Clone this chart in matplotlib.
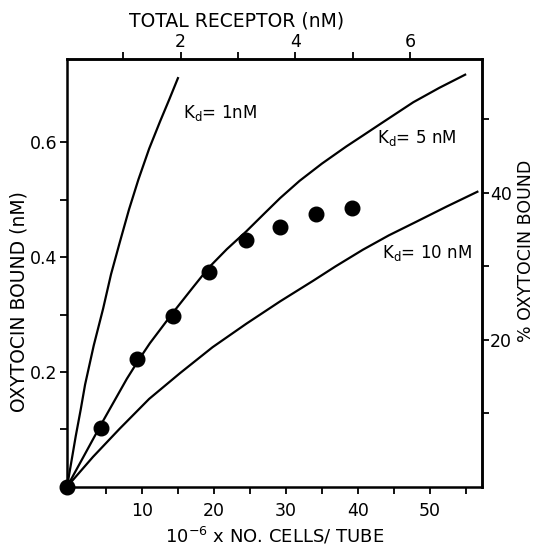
import matplotlib
matplotlib.use('Agg')
import matplotlib.pyplot as plt

# measured points (cells in 10^6 / tube, oxytocin bound in nM)
cells_pts = [-0.4, 4.3, 9.35, 14.3, 19.3, 24.5, 29.2, 34.2, 39.2]
bound_pts = [0.0, 0.103, 0.223, 0.297, 0.374, 0.430, 0.453, 0.475, 0.485]

# theoretical curves
kd1_x = [-0.4, 0.8, 1.5, 2.1, 3.3, 4.6, 5.7, 6.9, 8.2, 9.5, 11.0, 12.5, 13.8, 15.0]
kd1_y = [0.0, 0.088, 0.135, 0.178, 0.246, 0.310, 0.370, 0.425, 0.483, 0.535, 0.589, 0.636, 0.675, 0.712]

kd5_x = [-0.4, 2.0, 4.3, 7.9, 9.5, 11.1, 14.35, 17.0, 19.3, 21.8, 24.5, 27.0, 29.2,
         31.9, 35.0, 38.4, 40.7, 43.1, 45.4, 47.7, 51.3, 54.9]
kd5_y = [0.0, 0.055, 0.108, 0.188, 0.220, 0.250, 0.304, 0.346, 0.382, 0.414, 0.445, 0.476, 0.503,
         0.533, 0.563, 0.593, 0.612, 0.632, 0.651, 0.670, 0.695, 0.718]

kd10_x = [-0.4, 3.2, 6.9, 11.0, 15.3, 19.8, 24.5, 29.2, 33.8, 36.9, 40.7, 44.3, 48.0, 52.3, 56.6]
kd10_y = [0.0, 0.052, 0.101, 0.153, 0.198, 0.243, 0.284, 0.323, 0.359, 0.384, 0.413, 0.438, 0.461, 0.488, 0.514]

# axis conversions
CELLS_PER_NM = 7.96
CELL_OFFSET = 0.53
LIGAND_NM = 1.28

def cells_to_nm(x):
    return (x + CELL_OFFSET) / CELLS_PER_NM

def nm_to_cells(r):
    return r * CELLS_PER_NM - CELL_OFFSET

def bound_to_pct(y):
    return y / LIGAND_NM * 100.0

def pct_to_bound(p):
    return p * LIGAND_NM / 100.0

plt.rcParams['font.family'] = 'DejaVu Sans'

fig = plt.figure(figsize=(5.37, 5.46), dpi=100)
ax = fig.add_axes([0.1244, 0.1086, 0.7726, 0.7830])

ax.plot(kd1_x, kd1_y, color='black', lw=1.6)
ax.plot(kd5_x, kd5_y, color='black', lw=1.6)
ax.plot(kd10_x, kd10_y, color='black', lw=1.6)
ax.plot(cells_pts, bound_pts, 'o', color='black', ms=10.5, clip_on=False, zorder=5)

ax.set_xlim(-0.44, 57.2)
ax.set_ylim(0, 0.745)

ax.set_xticks([10, 20, 30, 40, 50])
ax.set_xticks([5, 15, 25, 35, 45, 55], minor=True)
ax.set_yticks([0.2, 0.4, 0.6])
ax.set_yticklabels(['0.2', '0.4', '0.6'])
ax.set_yticks([0.1, 0.3, 0.5], minor=True)

ax.tick_params(which='both', direction='out', length=5, width=1.3, labelsize=12.5)
ax.tick_params(axis='x', pad=6)
ax.tick_params(axis='y', pad=2)

top = ax.secondary_xaxis('top', functions=(cells_to_nm, nm_to_cells))
top.set_xticks([2, 4, 6])
top.set_xticks([1, 3, 5], minor=True)
top.tick_params(which='both', direction='out', length=5, width=1.3, labelsize=12.5, pad=1)

right = ax.secondary_yaxis('right', functions=(bound_to_pct, pct_to_bound))
right.set_yticks([20, 40])
right.set_yticks([10, 30, 50], minor=True)
right.tick_params(which='both', direction='out', length=5, width=1.3, labelsize=12.5, pad=1)

for s in ax.spines.values():
    s.set_linewidth(1.8)
for s in top.spines.values():
    s.set_linewidth(1.8)
for s in right.spines.values():
    s.set_linewidth(1.8)

# axis titles
ax.text(-0.116, 0.434, 'OXYTOCIN BOUND (nM)', transform=ax.transAxes,
        rotation=90, ha='center', va='center', fontsize=13.5)
ax.text(1.108, 0.551, '% OXYTOCIN BOUND', transform=ax.transAxes,
        rotation=90, ha='center', va='center', fontsize=12.5)
ax.text(0.408, 1.09, 'TOTAL RECEPTOR (nM)', transform=ax.transAxes,
        ha='center', va='center', fontsize=13.5)
ax.text(0.5, -0.115, r'10$^{\mathregular{-6}}$ x NO. CELLS/ TUBE', transform=ax.transAxes,
        ha='center', va='center', fontsize=13)

# curve labels
ax.text(15.7, 0.643, r'K$_{\mathregular{d}}$= 1nM', fontsize=12, va='baseline')
ax.text(42.6, 0.599, r'K$_{\mathregular{d}}$= 5 nM', fontsize=12, va='baseline')
ax.text(43.3, 0.399, r'K$_{\mathregular{d}}$= 10 nM', fontsize=12, va='baseline')

plt.savefig('out.png', dpi=100)
